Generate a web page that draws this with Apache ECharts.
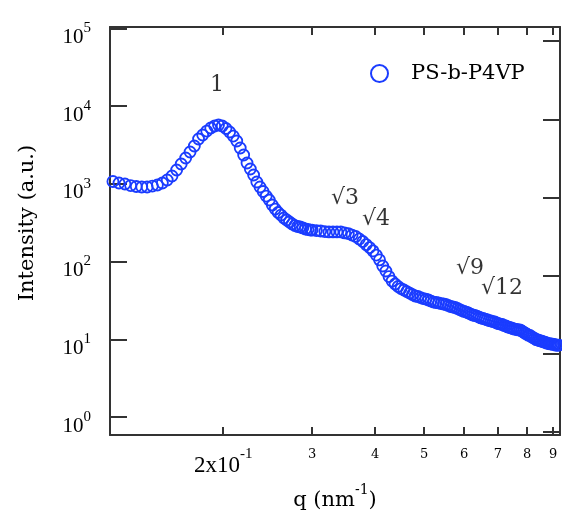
<!DOCTYPE html>
<html><head><meta charset="utf-8">
<script src="https://cdn.jsdelivr.net/npm/echarts@6/dist/echarts.min.js"></script>
<style>html,body{margin:0;padding:0;background:#fff}#c{width:562px;height:516px}</style>
</head><body><div id="c"></div>
<script>
const seriesName = 'PS-b-P4VP';
const qValues = [0.121,0.1244,0.1278,0.1312,0.1346,0.138,0.1414,0.1448,0.1482,0.1516,0.155,0.1584,0.1618,0.1652,0.1686,0.172,0.1754,0.1788,0.1822,0.1856,0.189,0.1924,0.1958,0.1992,0.2026,0.206,0.2094,0.2128,0.2162,0.2196,0.223,0.2264,0.2298,0.2332,0.2366,0.24,0.2434,0.2468,0.2502,0.2536,0.257,0.2604,0.2638,0.2672,0.2706,0.274,0.2774,0.2808,0.2842,0.2876,0.291,0.2944,0.2978,
0.300,0.306,0.312,0.318,0.324,0.330,0.336,0.342,0.348,0.354,0.360,0.366,0.372,0.378,0.384,0.390,0.396,0.402,0.408,0.414,0.420,0.426,0.432,0.438,0.444,0.450,0.456,0.462,0.468,0.474,0.480,0.486,0.492,0.498,0.504,0.510,0.516,0.522,0.528,0.534,0.540,0.546,0.552,0.558,0.564,0.570,0.576,0.582,0.588,0.594,0.600,0.606,0.612,0.618,0.624,0.630,0.636,0.642,0.648,0.654,0.660,0.666,0.672,0.678,0.684,0.690,0.696,0.702,0.708,0.714,0.720,0.726,0.732,0.738,0.744,0.750,0.756,0.762,0.768,0.774,0.780,0.786,0.792,0.798,0.804,0.810,0.816,0.822,0.828,0.834,0.840,0.846,0.852,0.858,0.864,0.870,0.876,0.882,0.888,0.894,0.900,0.906,0.912,0.918,0.924];
const intensity = [1069,1023,993,949,922,908,908,935,964,1023,1117,1259,1503,1795,2143,2560,3060,3764,4236,4766,5212,5534,5700,5534,5140,4634,4111,3548,2884,2344,1849,1549,1297,1053,908,795,695,618,533,473,427,396,363,342,322,304,290,282,278,270,262,258,254,
254,250,247,243,240,240,240,240,233,229,219,210,195,181,165,151,137,121,105,87.5,75.5,64,56,51.4,47.7,44.9,43.0,41.1,39.3,37.6,36.0,35.5,34.4,33.4,32.9,32.0,31.0,30.1,29.7,29.3,28.8,28.4,28.0,27.2,26.4,26.0,25.6,24.9,24.1,23.4,22.8,22.4,21.8,21.1,20.5,20.2,19.9,19.3,18.8,18.5,18.2,17.9,17.4,17.2,16.9,16.7,16.2,15.9,15.7,15.5,15.0,14.8,14.4,14.2,14.0,13.7,13.5,13.4,13.2,13.2,12.8,12.4,12.0,11.7,11.3,11.2,10.8,10.5,10.2,9.9,9.8,9.6,9.5,9.4,9.2,9.1,8.9,8.8,8.7,8.7,8.6,8.6,8.4,8.4,8.4];
const xTickValues = [0.2,0.3,0.4,0.5,0.6,0.7,0.8,0.9];
const yTickValues = [1,10,100,1000,10000,100000];
const peakLabels = ['1','√3','√4','√9','√12'];
const peakQ = [0.1945,0.3486,0.4016,0.6165,0.713];
const peakI = [18600,656,352,82.5,45.6];

const SERIF = 'DejaVu Serif';
const TIMES = 'Liberation Serif';
const INK = '#000';
const AX = '#333';
const BLUE = '#1a3cff';
const axisLine = {show:true, lineStyle:{color:AX, width:2}};

const chart = echarts.init(document.getElementById('c'), null, {renderer:'canvas'});
chart.setOption({
  animation:false,
  backgroundColor:'#fff',
  grid:{left:110, right:2, top:27, bottom:81, containLabel:false},
  legend:{
    data:[{name:seriesName, icon:'emptyCircle', itemStyle:{color:BLUE, borderColor:BLUE, borderWidth:2}}],
    left:365, top:58, itemWidth:17, itemHeight:17,
    textStyle:{fontFamily:SERIF, fontSize:21, color:INK, padding:[0,0,0,18]}
  },
  xAxis:[{
    type:'log', logBase:10, min:0.1194, max:0.929, position:'bottom',
    axisLine, splitLine:{show:false}, minorTick:{show:false},
    axisTick:{show:true, inside:true, length:8, lineStyle:{color:AX, width:2}, customValues:xTickValues},
    axisLabel:{show:true, margin:12, customValues:xTickValues, color:INK,
      formatter:v => Math.abs(v-0.2)<1e-6 ? '{b|2x10}{s|-1}' : '{n|'+Math.round(v*10)+'}',
      rich:{
        n:{fontFamily:SERIF, fontSize:13, lineHeight:16, color:INK},
        b:{fontFamily:TIMES, fontSize:23, lineHeight:30, verticalAlign:'bottom', color:INK},
        s:{fontFamily:TIMES, fontSize:15, verticalAlign:'top', color:INK}
      }},
    name:'{b|q (nm}{s|-1}{b|)}', nameLocation:'middle', nameGap:48,
    nameTextStyle:{rich:{
      b:{fontFamily:SERIF, fontSize:21, lineHeight:28, verticalAlign:'bottom', color:INK},
      s:{fontFamily:SERIF, fontSize:14, verticalAlign:'top', color:INK}
    }}
  },{
    type:'log', logBase:10, min:0.1194, max:0.929, position:'top',
    axisLine, splitLine:{show:false},
    axisTick:{show:true, inside:true, length:8, lineStyle:{color:AX, width:2}, customValues:xTickValues},
    axisLabel:{show:false}
  }],
  yAxis:[{
    type:'log', logBase:10, min:0.587, max:103800, position:'left',
    axisLine, splitLine:{show:false}, minorTick:{show:false},
    axisTick:{show:true, inside:true, length:17, lineStyle:{color:AX, width:2}, customValues:yTickValues},
    axisLabel:{show:true, margin:19, customValues:yTickValues, color:INK, padding:[12,0,0,0],
      formatter:v => '{b|10}{s|'+Math.round(Math.log10(v))+'}',
      rich:{
        b:{fontFamily:TIMES, fontSize:21, lineHeight:27, verticalAlign:'bottom', color:INK},
        s:{fontFamily:TIMES, fontSize:15, verticalAlign:'top', color:INK}
      }},
    name:'Intensity (a.u.)', nameLocation:'middle', nameGap:72,
    nameTextStyle:{fontFamily:SERIF, fontSize:21, color:INK, padding:[0,0,0,16]}
  },{
    type:'log', logBase:10, min:0.916, max:151356, position:'right',
    axisLine, splitLine:{show:false},
    axisTick:{show:true, inside:true, length:17, lineStyle:{color:AX, width:2}, customValues:yTickValues},
    axisLabel:{show:false}
  }],
  series:[{
    name:seriesName, type:'scatter', xAxisIndex:0, yAxisIndex:0,
    symbol:'circle', symbolSize:11,
    itemStyle:{color:'rgba(255,255,255,0)', borderColor:BLUE, borderWidth:1.8, opacity:1},
    data:qValues.map((q,i)=>[q,intensity[i]])
  },{
    name:'peaks', type:'scatter', xAxisIndex:0, yAxisIndex:0, silent:true,
    symbolSize:1, itemStyle:{color:'rgba(0,0,0,0)'},
    label:{show:true, position:'inside', formatter:'{b}', fontFamily:SERIF, fontSize:22, color:INK},
    data:peakQ.map((q,i)=>({name:peakLabels[i], value:[q,peakI[i]]}))
  }]
});
</script></body></html>
